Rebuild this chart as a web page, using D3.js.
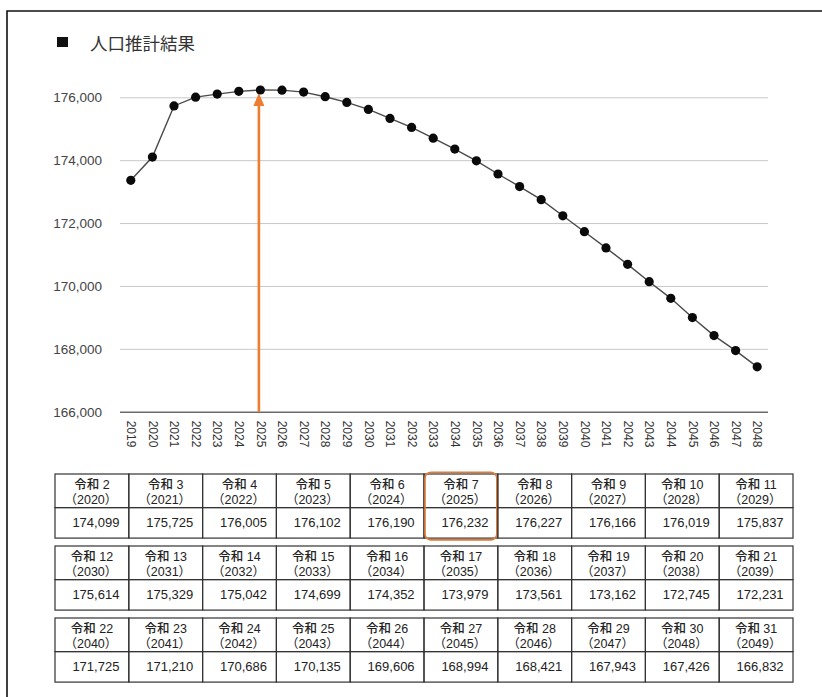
<!DOCTYPE html>
<html>
<head>
<meta charset="utf-8">
<script src="https://cdn.jsdelivr.net/npm/d3@7/dist/d3.min.js"></script>
<style>
  html, body { margin: 0; padding: 0; background: #fff; }
  svg { display: block; }
</style>
</head>
<body>
<svg id="chart" width="822" height="697"></svg>
<script>
// Population projection (人口推計結果)
const chartYears = ["2019","2020","2021","2022","2023","2024","2025","2026","2027","2028",
  "2029","2030","2031","2032","2033","2034","2035","2036","2037","2038",
  "2039","2040","2041","2042","2043","2044","2045","2046","2047","2048"];
const chartValues = [173360, 174099, 175725, 176005, 176102, 176190, 176232, 176227, 176166, 176019,
  175837, 175614, 175329, 175042, 174699, 174352, 173979, 173561, 173162, 172745,
  172231, 171725, 171210, 170686, 170135, 169606, 168994, 168421, 167943, 167426];
const yTicks = [166000, 168000, 170000, 172000, 174000, 176000];
const highlightYear = "2025";

// Table of projected values
const tableReiwa = [2,3,4,5,6,7,8,9,10,11,12,13,14,15,16,17,18,19,20,21,22,23,24,25,26,27,28,29,30,31];
const tableYears = [2020,2021,2022,2023,2024,2025,2026,2027,2028,2029,
  2030,2031,2032,2033,2034,2035,2036,2037,2038,2039,
  2040,2041,2042,2043,2044,2045,2046,2047,2048,2049];
const tableValues = [174099, 175725, 176005, 176102, 176190, 176232, 176227, 176166, 176019, 175837,
  175614, 175329, 175042, 174699, 174352, 173979, 173561, 173162, 172745, 172231,
  171725, 171210, 170686, 170135, 169606, 168994, 168421, 167943, 167426, 166832];

const svg = d3.select("#chart");
const fmt = d3.format(",");
const jp = "'Noto Sans CJK JP', 'Noto Sans', sans-serif";
const num = "'Liberation Sans', Arial, sans-serif";
const cell = "'Liberation Sans', 'Noto Sans CJK JP', sans-serif";

// Frame (top and left edges)
svg.append("path")
  .attr("d", "M7,697 V11 H822")
  .attr("fill", "none").attr("stroke", "#111").attr("stroke-width", 1.6);

// Title
svg.append("rect").attr("x", 57).attr("y", 37).attr("width", 11).attr("height", 10).attr("fill", "#111");
svg.append("text").attr("x", 90).attr("y", 50)
  .attr("font-family", jp).attr("font-size", 17.5).attr("fill", "#333")
  .text("人口推計結果");

// Scales
const plot = { left: 120, right: 768, top: 97.3, bottom: 411.7 };
const x = d3.scalePoint().domain(chartYears).range([plot.left, plot.right]).padding(0.5);
const y = d3.scaleLinear().domain([166000, 176000]).range([plot.bottom, plot.top]);

// Gridlines + y labels
const yAxis = d3.axisLeft(y).tickValues(yTicks).tickFormat(fmt)
  .tickSize(-(plot.right - plot.left)).tickPadding(18);
const gy = svg.append("g").attr("transform", `translate(${plot.left},0)`).call(yAxis);
gy.select(".domain").remove();
gy.selectAll(".tick line").attr("stroke", "#c8c8c8").attr("stroke-width", 1);
gy.selectAll(".tick text").attr("font-family", num).attr("font-size", 13.5).attr("fill", "#444");
gy.selectAll(".tick").filter(d => d === 166000).select("line")
  .attr("stroke", "#6a6a6a").attr("stroke-width", 1.6);

// X axis labels (rotated)
const xAxis = d3.axisBottom(x).tickSize(0).tickPadding(0);
const gx = svg.append("g").attr("transform", `translate(0,${plot.bottom})`).call(xAxis);
gx.select(".domain").remove();
gx.selectAll(".tick text")
  .attr("font-family", num).attr("font-size", 12).attr("fill", "#333")
  .attr("text-anchor", "start").attr("dy", "0.35em")
  .attr("transform", "translate(0,9) rotate(90)");

// Line
const line = d3.line().x((d, i) => x(chartYears[i])).y(d => y(d));
svg.append("path").datum(chartValues)
  .attr("d", line).attr("fill", "none").attr("stroke", "#4a4a4a").attr("stroke-width", 1.4);

// Arrow to the highlighted year
const hi = chartYears.indexOf(highlightYear);
const ax = x(highlightYear) - 1.5;
const tipY = y(chartValues[hi]) + 3;
svg.append("line").attr("x1", ax).attr("x2", ax).attr("y1", plot.bottom).attr("y2", tipY + 10)
  .attr("stroke", "#ED7D31").attr("stroke-width", 2.6);
svg.append("path")
  .attr("d", `M${ax},${tipY} L${ax - 5.5},${tipY + 13} L${ax + 5.5},${tipY + 13} Z`)
  .attr("fill", "#ED7D31");

// Points
svg.append("g").selectAll("circle").data(chartValues).join("circle")
  .attr("cx", (d, i) => x(chartYears[i])).attr("cy", d => y(d)).attr("r", 4.6).attr("fill", "#0a0a0a");

// Tables: three blocks of ten columns
const tbl = { left: 55, colW: 73.8, top: 474, step: 72, headH: 33.6, rowH: 30.5 };
const g = svg.append("g");
for (let b = 0; b < 3; b++) {
  const top = tbl.top + b * tbl.step;
  const tg = g.append("g");
  for (let c = 0; c < 10; c++) {
    const k = b * 10 + c;
    const cx = tbl.left + c * tbl.colW;
    tg.append("rect").attr("x", cx).attr("y", top).attr("width", tbl.colW).attr("height", tbl.headH)
      .attr("fill", "none").attr("stroke", "#333").attr("stroke-width", 1.2);
    tg.append("rect").attr("x", cx).attr("y", top + tbl.headH).attr("width", tbl.colW).attr("height", tbl.rowH)
      .attr("fill", "none").attr("stroke", "#333").attr("stroke-width", 1.2);
    const mid = cx + tbl.colW / 2;
    tg.append("text").attr("x", mid).attr("y", top + 15.3).attr("text-anchor", "middle")
      .attr("font-family", cell).attr("font-size", 12.5).attr("font-weight", 500).attr("fill", "#222")
      .text("令和 " + tableReiwa[k]);
    tg.append("text").attr("x", mid - 1).attr("y", top + 30).attr("text-anchor", "middle")
      .attr("font-family", cell).attr("font-size", 12.5).attr("fill", "#222")
      .text("（" + tableYears[k] + "）");
    tg.append("text").attr("x", mid + 4).attr("y", top + 52.5).attr("text-anchor", "middle")
      .attr("font-family", cell).attr("font-size", 13).attr("fill", "#222")
      .text(fmt(tableValues[k]));
    if (String(tableYears[k]) === highlightYear) {
      tg.append("rect").attr("x", cx + 1).attr("y", top - 1.7).attr("width", tbl.colW - 2)
        .attr("height", tbl.headH + tbl.rowH + 3.5).attr("rx", 6)
        .attr("fill", "none").attr("stroke", "#E07A35").attr("stroke-width", 1.6);
    }
  }
}
</script>
</body>
</html>
